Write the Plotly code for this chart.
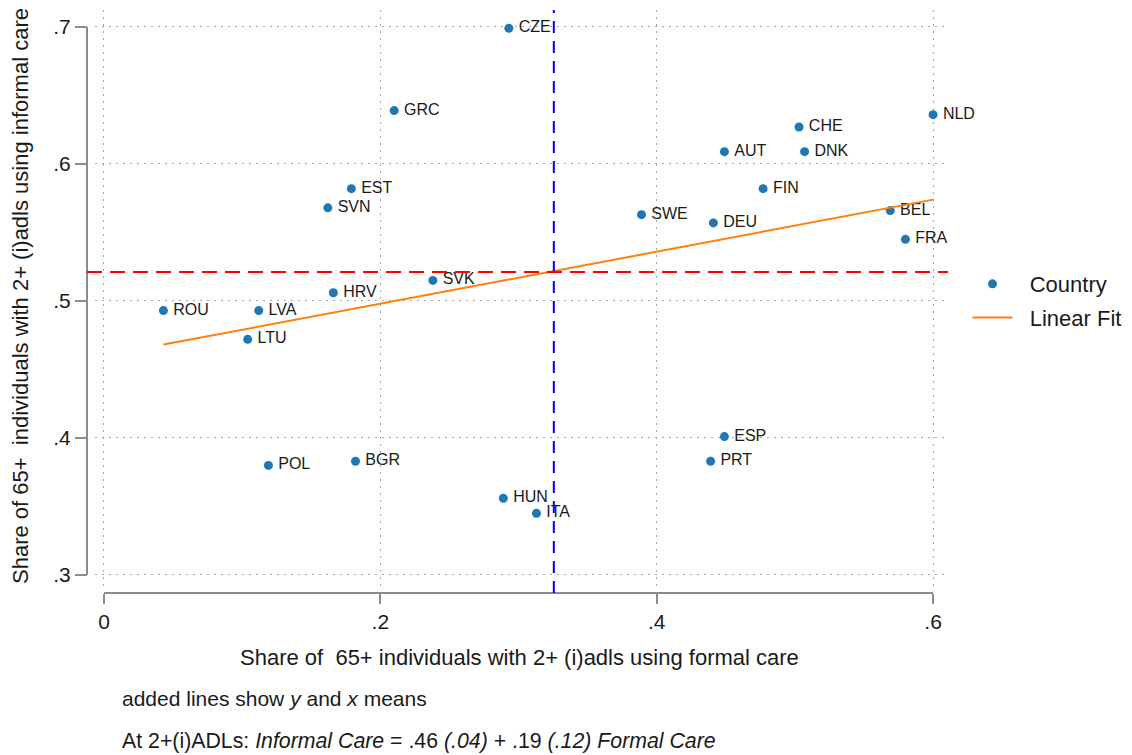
import numpy as np
import plotly.graph_objects as go

countries = ["CZE", "GRC", "NLD", "CHE", "AUT", "DNK", "EST", "FIN", "SVN", "SWE", "DEU", "BEL",
             "FRA", "SVK", "HRV", "ROU", "LVA", "LTU", "ESP", "PRT", "POL", "BGR", "HUN", "ITA"]
formal_care = [0.293, 0.210, 0.600, 0.503, 0.449, 0.507, 0.179, 0.477, 0.162, 0.389, 0.441, 0.569,
               0.580, 0.238, 0.166, 0.043, 0.112, 0.104, 0.449, 0.439, 0.119, 0.182, 0.289, 0.313]
informal_care = [0.699, 0.639, 0.636, 0.627, 0.609, 0.609, 0.582, 0.582, 0.568, 0.563, 0.557, 0.566,
                 0.545, 0.515, 0.506, 0.493, 0.493, 0.472, 0.401, 0.383, 0.380, 0.383, 0.356, 0.345]
fit_intercept = 0.46
fit_slope = 0.19
x_ticks = [0, 0.2, 0.4, 0.6]
x_tick_labels = ["0", ".2", ".4", ".6"]
y_ticks = [0.3, 0.4, 0.5, 0.6, 0.7]
y_tick_labels = [".3", ".4", ".5", ".6", ".7"]

x = np.array(formal_care)
y = np.array(informal_care)
x_mean = x.mean()
y_mean = y.mean()
fit_x = np.array([x.min(), x.max()])
fit_y = fit_intercept + fit_slope * fit_x

FONT = "Liberation Sans, Arial, sans-serif"
TXT = "#1a1a1a"
AX = "#8c8c8c"
GRID = "#a6a6a6"

fig = go.Figure()
fig.add_trace(go.Scatter(
    x=formal_care, y=informal_care, mode="markers+text",
    text=["\u2009" + c for c in countries],
    textposition="middle right", textfont=dict(size=16, color=TXT, family=FONT),
    marker=dict(color="#1f77b4", size=9), name="\u00a0\u00a0Country", cliponaxis=False,
    legendgroup="a"))
fig.add_trace(go.Scatter(
    x=fit_x, y=fit_y, mode="lines", line=dict(color="#ff7f0e", width=2),
    name="\u00a0\u00a0Linear Fit", legendgroup="b"))

shapes = [
    dict(type="line", xref="x", yref="paper", x0=0, x1=0.6, y0=0, y1=0,
         line=dict(color=AX, width=2)),
    dict(type="line", xref="paper", yref="y", x0=0, x1=0, y0=0.3, y1=0.7,
         line=dict(color=AX, width=2)),
    dict(type="line", xref="x", yref="paper", x0=x_mean, x1=x_mean, y0=0, y1=1,
         line=dict(color="#0000ff", width=2, dash="12px,8px")),
    dict(type="line", xref="paper", yref="y", x0=0, x1=1, y0=y_mean, y1=y_mean,
         line=dict(color="#ff0000", width=2, dash="15px,8px")),
]

annotations = [
    dict(text="Share of\u00a0 65+ individuals with 2+ (i)adls using formal care", xref="paper", yref="paper",
         x=(519 - 87) / 861, y=(593 - 657) / 583, xanchor="center", yanchor="middle", showarrow=False,
         font=dict(size=22, color=TXT, family=FONT)),
    dict(text="Share of 65+\u00a0 individuals with 2+ (i)adls using informal care", xref="paper", yref="paper",
         x=(20 - 87) / 861, y=(593 - 296) / 583, xanchor="center", yanchor="middle", textangle=-90,
         showarrow=False, font=dict(size=22, color=TXT, family=FONT)),
    dict(text="added lines show <i>y</i> and <i>x</i> means", xref="paper", yref="paper",
         x=(120 - 87) / 861, y=(593 - 698) / 583, xanchor="left", yanchor="middle", showarrow=False,
         font=dict(size=21, color=TXT, family=FONT)),
    dict(text="At 2+(i)ADLs: <i>Informal Care</i> = .46 <i>(.04)</i> + .19 <i>(.12)</i> <i>Formal Care</i>",
         xref="paper", yref="paper",
         x=(120 - 87) / 861, y=(593 - 741) / 583, xanchor="left", yanchor="middle", showarrow=False,
         font=dict(size=21.3, color=TXT, family=FONT)),
]

fig.update_layout(
    width=1132, height=755,
    margin=dict(l=87, r=184, t=10, b=162, autoexpand=False),
    paper_bgcolor="white", plot_bgcolor="white",
    font=dict(family=FONT, color=TXT),
    showlegend=True,
    legend=dict(x=(967.5 - 87) / 861, y=0.566, xanchor="left", yanchor="top",
                font=dict(size=22, family=FONT, color=TXT),
                bgcolor="rgba(0,0,0,0)", itemwidth=40, tracegroupgap=2, traceorder="grouped"),
    xaxis=dict(domain=[8 / 861, 1], range=[-0.0065, 0.6108], anchor="free", position=0,
               tickvals=x_ticks, ticktext=x_tick_labels, ticks="outside", ticklen=10,
               tickcolor=AX, tickwidth=2, showline=False, zeroline=False,
               showgrid=True, gridcolor=GRID, griddash="2px,5px", gridwidth=1,
               tickfont=dict(size=21, color=TXT)),
    yaxis=dict(domain=[5 / 583, 1], range=[0.2905, 0.7124], anchor="free", position=0,
               tickvals=y_ticks, ticktext=y_tick_labels, ticks="outside", ticklen=12,
               tickcolor=AX, tickwidth=2, showline=False, zeroline=False,
               showgrid=True, gridcolor=GRID, griddash="2px,5px", gridwidth=1,
               tickfont=dict(size=21, color=TXT)),
    shapes=shapes,
    annotations=annotations,
)
fig.write_html("out.html", config={"displayModeBar": False})
